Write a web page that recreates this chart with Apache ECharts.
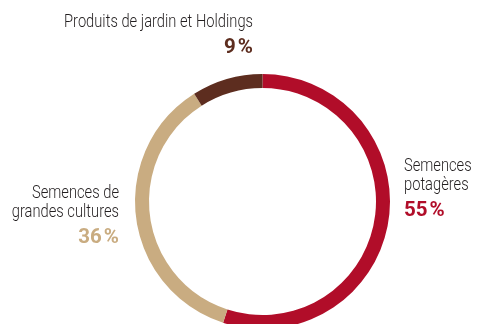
<!DOCTYPE html>
<html>
<head>
<meta charset="utf-8">
<script src="https://cdn.jsdelivr.net/npm/echarts@6/dist/echarts.min.js"></script>
<style>
  html, body { margin: 0; padding: 0; background: #ffffff; }
  #chart { width: 477px; height: 324px; }
</style>
</head>
<body>
<div id="chart"></div>
<script>
// Revenue split by business line
const categories = ['Semences potagères', 'Semences de grandes cultures', 'Produits de jardin et Holdings'];
const shares = [55, 36, 9];
const colors = ['#b10d29', '#c9ac81', '#5d2d1f'];
// Label lines as they break on the page
const labelLines = [['Semences', 'potagères'], ['Semences de', 'grandes cultures'], ['Produits de jardin et Holdings']];

const FONT = "Roboto, 'Liberation Sans', sans-serif";
const NARROW_TEXT = 0.84; // horizontal squeeze for a condensed look
const NARROW_PCT = 1.0;
const LINE = 18.7;
const pct = v => v + '\u200A%';

const chart = echarts.init(document.getElementById('chart'), null, { renderer: 'canvas' });

// Label blocks: anchor x, alignment, top of first line
const blocks = [
  { x: 404, align: 'left', y: 158 },
  { x: 119, align: 'right', y: 185 },
  { x: 253, align: 'right', y: 14 }
];

const graphics = [];
categories.forEach((c, i) => {
  const b = blocks[i];
  labelLines[i].forEach((line, k) => {
    graphics.push({
      type: 'text', x: b.x, y: b.y + k * LINE, scaleX: NARROW_TEXT,
      style: { text: line, font: '300 17.5px ' + FONT, fill: '#231f20', textAlign: b.align, textVerticalAlign: 'top' }
    });
  });
  const n = labelLines[i].length;
  graphics.push({
    type: 'text', x: b.x, y: b.y + (n - 1) * LINE + 23.5, scaleX: NARROW_PCT,
    style: { text: pct(shares[i]), font: 'bold 20.5px ' + FONT, fill: colors[i], textAlign: b.align, textVerticalAlign: 'top' }
  });
});

chart.setOption({
  animation: false,
  backgroundColor: '#ffffff',
  graphic: graphics,
  series: [{
    type: 'pie',
    silent: true,
    center: [262.5, 201.5],
    radius: [113.5, 127.5],
    startAngle: 90,
    clockwise: true,
    label: { show: false },
    labelLine: { show: false },
    itemStyle: { borderWidth: 0 },
    data: categories.map((name, i) => ({ name, value: shares[i], itemStyle: { color: colors[i] } }))
  }]
});
</script>
</body>
</html>
